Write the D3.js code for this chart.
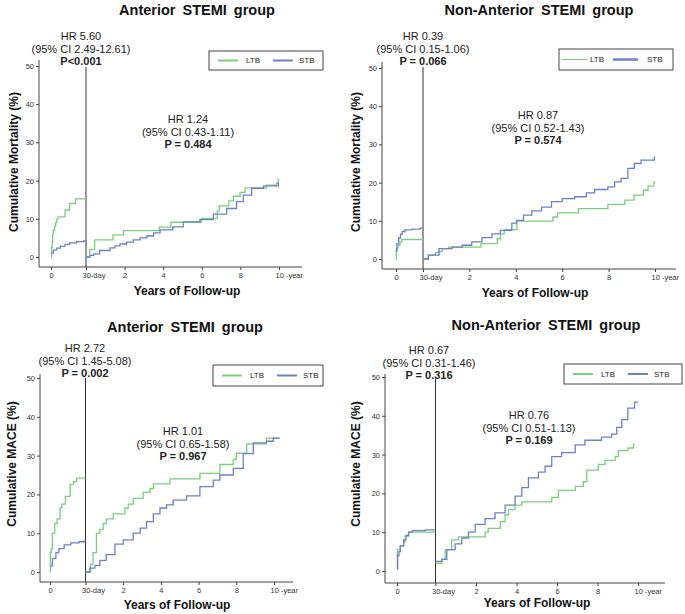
<!DOCTYPE html>
<html>
<head>
<meta charset="utf-8">
<script src="https://cdn.jsdelivr.net/npm/d3@7"></script>
<style>
  html, body { margin: 0; padding: 0; background: #fff; }
  svg { display: block; font-family: "Liberation Sans", Arial, sans-serif; }
</style>
</head>
<body>
<svg id="chart" width="685" height="614"></svg>
<script>
// ---- data: [time, cumulative %] ; early = days 0-30, late = years after 30 days
const antMortLtbEarly = [[0,0],[0.5,2.5],[1,4],[1.5,6],[2,7],[3,8],[4,9],[5,10],[6,10.5],[12,12.3],[16,14],[21,15.2],[30,15.2]];
const antMortStbEarly = [[0,1],[2,1.8],[5,2.3],[8,2.8],[12,3.3],[16,3.7],[22,4],[28,4.2],[30,4.3]];
const antMortLtbLate = [[0,0],[0.2,2],[0.45,4.5],[1.4,5.8],[1.94,6.9],[3.8,7.8],[4.4,9.1],[5.98,10.1],[6.8,12.1],[6.9,13.4],[7.4,14.7],[7.64,15.9],[7.98,16.9],[8.24,18.1],[9.36,18.8],[9.88,19.3],[9.95,20.4],[10,20.4]];
const antMortStbLate = [[0,0],[0.2,0.4],[0.4,0.8],[0.7,1.7],[1.24,2.4],[1.5,2.9],[1.76,3.4],[2.1,3.9],[2.45,4.5],[2.8,5],[3.15,5.5],[3.5,6.3],[3.84,7.1],[4.5,7.9],[5.04,9.2],[5.9,9.8],[6.6,11.2],[7.29,12.7],[7.8,14.5],[8.15,16.2],[8.58,18],[9.2,18.6],[9.97,19.3],[10,19.3]];

const nonMortLtbEarly = [[0,0],[0.3,2.7],[2,3.6],[4.5,4.4],[6.5,5.1],[30,5.1]];
const nonMortStbEarly = [[0,2],[1,4],[3,5.5],[5,6.5],[7,7.2],[10,7.6],[18,7.8],[27,8.1],[30,8.1]];
const nonMortLtbLate = [[0,0],[0.23,1],[0.54,1.7],[0.69,2],[0.83,2.7],[1.1,3.1],[2.5,4],[3.2,5.3],[3.35,6.6],[3.5,7.7],[4.05,9.9],[5.6,11],[5.8,12.1],[6.7,13.2],[7.97,14.3],[8.7,15.4],[9.1,16.7],[9.5,18],[9.7,19.1],[9.95,20.2],[10,20.2]];
const nonMortStbLate = [[0,0],[0.23,1],[0.69,2.7],[1.26,3.1],[1.69,3.6],[2.1,4.5],[2.54,5.6],[2.97,6.6],[3.33,7.5],[3.83,9.4],[4.04,10.1],[4.33,11.5],[4.69,12.6],[5.11,13.6],[5.54,15],[6,15.8],[6.54,16.3],[7.04,17.3],[7.4,18.2],[7.97,18.9],[8.26,20.2],[8.54,21.1],[8.83,23.7],[9.11,25],[9.4,25.9],[9.97,26.7],[10,26.7]];

const antMaceLtbEarly = [[0,0],[0.3,5],[1,6],[2,10],[4,12.5],[6,13.7],[8.5,16.5],[10,17.5],[13,19.5],[17,22.5],[20,23.3],[22.5,24.2],[30,24.2]];
const antMaceStbEarly = [[0,1.5],[2,3.5],[5,5],[7.5,6],[12,7],[17.5,7.5],[24.5,7.8],[29,8],[30,8]];
const antMaceLtbLate = [[0,0],[0.27,2],[0.4,5],[0.58,10],[0.76,11],[0.94,12.5],[1.1,13.7],[1.47,15],[2.09,16.5],[2.27,17.5],[2.53,19],[3.06,20.5],[3.42,21.5],[3.6,22.7],[4.48,24],[6.07,25.4],[7.13,27.7],[7.84,29],[8.0,30.6],[8.55,33],[9.6,34.5],[10.3,34.5]];
const antMaceStbLate = [[0,0],[0.23,1],[0.5,1.7],[0.76,3],[1.1,4.5],[1.56,7.2],[2,8.3],[2.53,10],[2.9,11.3],[3.24,13],[3.6,15],[3.95,16.5],[4.3,17.3],[4.65,18.5],[5.36,19.6],[6.07,22],[6.78,23.7],[7.13,25],[7.84,26.7],[8.37,30.5],[8.9,33.3],[9.6,33.7],[9.96,34.5],[10.3,34.5]];

const nonMaceLtbEarly = [[0,0.5],[0.3,5.5],[2.6,6.5],[5.2,7.5],[6.5,9],[9,10],[30,10]];
const nonMaceStbEarly = [[0,0.5],[0.5,4],[1.5,5],[2.6,6.5],[5.2,8],[7,9.2],[9,10],[12,10.4],[22,10.6],[30,10.6]];
const nonMaceLtbLate = [[0,2],[0.31,3],[0.48,5.5],[0.8,8],[1.13,8.8],[2.45,10],[2.6,11],[3.2,12.7],[3.44,14.5],[3.6,15.8],[3.93,17],[4.26,17.8],[5.74,19],[6.07,20.8],[6.9,21.8],[7.3,23],[7.47,26],[8.04,27.5],[8.37,28.5],[8.87,29.5],[9.03,31],[9.5,31.7],[9.77,32.7],[9.85,32.7]];
const nonMaceStbLate = [[0,2.5],[0.31,3],[0.56,5.5],[0.97,7],[1.3,8.5],[1.63,10],[1.96,12],[2.45,13.5],[2.94,15],[3.44,17],[3.93,19.3],[4.26,21.5],[4.59,24],[5.08,25.5],[5.41,27],[5.74,29.5],[6.23,30.5],[6.9,32.5],[7.38,33.7],[8.2,34.5],[8.7,35.3],[8.95,37],[9.2,39],[9.5,42],[9.83,43.5],[10,43.5]];

const yTicks = [0, 10, 20, 30, 40, 50];
const yearTicks = [0, 2, 4, 6, 8, 10];
const yearLabels = ["30-day", "2", "4", "6", "8", "10 -year"];
const seriesNames = ["LTB", "STB"];

const green = "#78d078";
const blue = "#6d7fcc";

const panels = [
  { title: "Anterior STEMI group", tx: 197, ty: 15, ylab: "Cumulative Mortality (%)", ylx: 14, yly: 162,
    ax: 39, ay: 267, yTop: 60, y0: 257, y50: 66, d0: 51, xv: 86, x10: 279, xr: 302, vTop: 67, xlx: 187, xly: 295,
    early: ["HR 5.60", "(95% CI 2.49-12.61)", "P<0.001"], ex: 81, ey: 40,
    late: ["HR 1.24", "(95% CI 0.43-1.11)", "P = 0.484"], lx: 188, ly: 123,
    leg: { x: 209, y: 51, w: 114, h: 19, thick: false },
    data: [antMortLtbEarly, antMortStbEarly, antMortLtbLate, antMortStbLate] },
  { title: "Non-Anterior STEMI group", tx: 539, ty: 15, ylab: "Cumulative Mortality (%)", ylx: 356, yly: 162,
    ax: 382, ay: 269, yTop: 62, y0: 259, y50: 68, d0: 396, xv: 423, x10: 655, xr: 676, vTop: 67, xlx: 535, xly: 297,
    early: ["HR 0.39", "(95% CI 0.15-1.06)", "P = 0.066"], ex: 423, ey: 40,
    late: ["HR 0.87", "(95% CI 0.52-1.43)", "P = 0.574"], lx: 538, ly: 119,
    leg: { x: 559, y: 49, w: 114, h: 21, thick: true },
    data: [nonMortLtbEarly, nonMortStbEarly, nonMortLtbLate, nonMortStbLate] },
  { title: "Anterior STEMI group", tx: 185, ty: 332, ylab: "Cumulative MACE (%)", ylx: 12, yly: 464,
    ax: 40, ay: 582, yTop: 374, y0: 572, y50: 378, d0: 50, xv: 85.5, x10: 274, xr: 293, vTop: 378, xlx: 177, xly: 609,
    early: ["HR 2.72", "(95% CI 1.45-5.08)", "P = 0.002"], ex: 85, ey: 352,
    late: ["HR 1.01", "(95% CI 0.65-1.58)", "P = 0.967"], lx: 183, ly: 435,
    leg: { x: 213, y: 365, w: 110, h: 21, thick: false },
    data: [antMaceLtbEarly, antMaceStbEarly, antMaceLtbLate, antMaceStbLate] },
  { title: "Non-Anterior STEMI group", tx: 546, ty: 330, ylab: "Cumulative MACE (%)", ylx: 356, yly: 464,
    ax: 385, ay: 583, yTop: 374, y0: 571, y50: 377, d0: 397, xv: 435.5, x10: 638, xr: 665, vTop: 379, xlx: 537, xly: 607,
    early: ["HR 0.67", "(95% CI 0.31-1.46)", "P = 0.316"], ex: 429, ey: 354,
    late: ["HR 0.76", "(95% CI 0.51-1.13)", "P = 0.169"], lx: 529, ly: 419,
    leg: { x: 564, y: 364, w: 118, h: 20, thick: false },
    data: [nonMaceLtbEarly, nonMaceStbEarly, nonMaceLtbLate, nonMaceStbLate] }
];

const svg = d3.select("#chart");
const axisColor = "#444";

panels.forEach(p => {
  const g = svg.append("g");
  const y = d3.scaleLinear().domain([0, 50]).range([p.y0, p.y50]);
  const xDay = d3.scaleLinear().domain([0, 30]).range([p.d0, p.xv]);
  const xYear = d3.scaleLinear().domain([0, 10]).range([p.xv, p.x10]);

  // title
  g.append("text").attr("x", p.tx).attr("y", p.ty).attr("text-anchor", "middle")
    .attr("font-size", 14.5).attr("font-weight", "bold").attr("fill", "#111")
    .attr("word-spacing", 3).text(p.title);

  // y axis
  const yAx = g.append("g").attr("transform", `translate(${p.ax},0)`)
    .call(d3.axisLeft(y).tickValues(yTicks).tickSize(3).tickPadding(2));
  yAx.select(".domain").remove();
  yAx.selectAll("line").attr("stroke", axisColor);
  yAx.selectAll("text").attr("font-size", 7.5).attr("fill", "#333").attr("font-family", "Liberation Sans, Arial");
  g.append("line").attr("x1", p.ax).attr("x2", p.ax).attr("y1", p.yTop).attr("y2", p.ay)
    .attr("stroke", axisColor);

  // x axis
  g.append("line").attr("x1", p.ax).attr("x2", p.xr).attr("y1", p.ay).attr("y2", p.ay)
    .attr("stroke", axisColor);
  const dAx = g.append("g").attr("transform", `translate(0,${p.ay})`)
    .call(d3.axisBottom(xDay).tickValues([0]).tickSize(3).tickPadding(3));
  const yrAx = g.append("g").attr("transform", `translate(0,${p.ay})`)
    .call(d3.axisBottom(xYear).tickValues(yearTicks).tickSize(3).tickPadding(3)
      .tickFormat((d, i) => yearLabels[i]));
  [dAx, yrAx].forEach(a => {
    a.select(".domain").remove();
    a.selectAll("line").attr("stroke", axisColor);
    a.selectAll("text").attr("font-size", 7.5).attr("fill", "#333").attr("font-family", "Liberation Sans, Arial");
  });
  yrAx.selectAll("text").filter(d => d === 0 || d === 10)
    .attr("text-anchor", "start").attr("x", -4);

  // 30-day divider
  g.append("line").attr("x1", p.xv).attr("x2", p.xv).attr("y1", p.vTop).attr("y2", p.ay)
    .attr("stroke", "#333").attr("stroke-width", 1);

  // axis titles
  g.append("text").attr("transform", `translate(${p.ylx},${p.yly}) rotate(-90)`)
    .attr("text-anchor", "middle").attr("dy", "0.35em")
    .attr("font-size", 12).attr("font-weight", "bold").attr("fill", "#111").text(p.ylab);
  g.append("text").attr("x", p.xlx).attr("y", p.xly).attr("text-anchor", "middle")
    .attr("font-size", 12).attr("font-weight", "bold").attr("fill", "#111").text("Years of Follow-up");

  // curves
  const lineDay = d3.line().x(d => xDay(d[0])).y(d => y(d[1])).curve(d3.curveStepAfter);
  const lineYear = d3.line().x(d => xYear(d[0])).y(d => y(d[1])).curve(d3.curveStepAfter);
  const [ltbE, stbE, ltbL, stbL] = p.data;
  [[ltbE, lineDay, green], [stbE, lineDay, blue], [ltbL, lineYear, green], [stbL, lineYear, blue]]
    .forEach(([d, fn, c]) => {
      g.append("path").datum(d).attr("d", fn).attr("fill", "none")
        .attr("stroke", c).attr("stroke-width", 1.3);
    });

  // HR annotations
  const note = (lines, cx, cy) => {
    lines.forEach((t, i) => {
      g.append("text").attr("x", cx).attr("y", cy + i * 12.5).attr("text-anchor", "middle")
        .attr("font-size", 11).attr("fill", "#222")
        .attr("font-weight", i === 2 ? "bold" : "normal").text(t);
    });
  };
  note(p.early, p.ex, p.ey);
  note(p.late, p.lx, p.ly);

  // legend
  const L = p.leg;
  const lg = g.append("g").attr("transform", `translate(${L.x},${L.y})`);
  lg.append("rect").attr("width", L.w).attr("height", L.h).attr("fill", "#fff")
    .attr("stroke", "#444").attr("stroke-width", 1);
  const my = L.h / 2;
  const items = [
    { x1: 9, x2: 29, c: green, w: L.thick ? 1 : 2, tx: 37 },
    { x1: 64, x2: 84, c: blue, w: L.thick ? 2.5 : 2, tx: 90 }
  ];
  if (L.thick) { items[0].x1 = 3; items[0].x2 = 28; items[0].tx = 31; items[1].x1 = 54; items[1].x2 = 79; items[1].tx = 88; }
  items.forEach((it, i) => {
    lg.append("line").attr("x1", it.x1).attr("x2", it.x2).attr("y1", my).attr("y2", my)
      .attr("stroke", it.c).attr("stroke-width", it.w);
    lg.append("text").attr("x", it.tx).attr("y", my).attr("dy", "0.35em")
      .attr("font-size", 8).attr("fill", "#222").text(seriesNames[i]);
  });
});
</script>
</body>
</html>
